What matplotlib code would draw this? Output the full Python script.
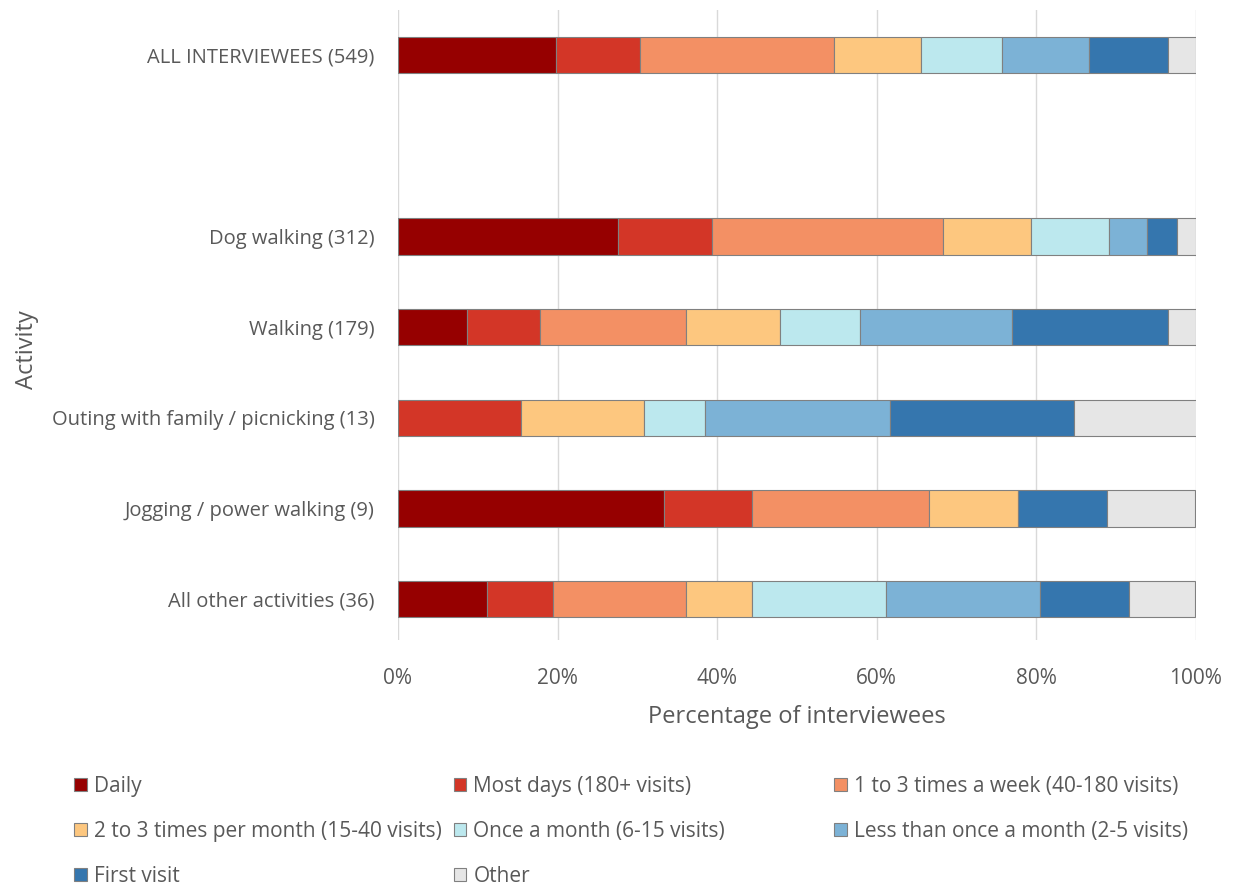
import numpy as np
import matplotlib.pyplot as plt

# activities, bottom to top (an empty slot sits below the overall row)
activities = ['All other activities (36)', 'Jogging / power walking (9)',
              'Outing with family / picnicking (13)', 'Walking (179)',
              'Dog walking (312)', '', 'ALL INTERVIEWEES (549)']

frequencies = ['Daily', 'Most days (180+ visits)', '1 to 3 times a week (40-180 visits)',
               '2 to 3 times per month (15-40 visits)', 'Once a month (6-15 visits)',
               'Less than once a month (2-5 visits)', 'First visit', 'Other']

# percentage of interviewees per frequency, one list per activity (same order as activities)
all_other = [11.1, 8.3, 16.7, 8.3, 16.7, 19.4, 11.1, 8.3]
jogging = [33.3, 11.1, 22.2, 11.1, 0.0, 0.0, 11.1, 11.1]
outing = [0.0, 15.4, 0.0, 15.4, 7.7, 23.1, 23.1, 15.4]
walking = [8.7, 9.1, 18.3, 11.8, 10.0, 19.0, 19.6, 3.5]
dog_walking = [27.6, 11.8, 28.9, 11.0, 9.8, 4.8, 3.7, 2.4]
blank = [0, 0, 0, 0, 0, 0, 0, 0]
all_interviewees = [19.8, 10.5, 24.3, 10.9, 10.2, 10.9, 9.9, 3.5]

colors = ['#960000', '#D33627', '#F39064', '#FDC77F', '#BCE8EE',
          '#7CB2D6', '#3576AE', '#E6E6E6']

rows = np.array([all_other, jogging, outing, walking, dog_walking, blank, all_interviewees])
ypos = np.arange(len(activities))

fig = plt.figure(figsize=(12.36, 8.85), dpi=100)
ax = fig.add_axes([0.322, 0.277, 0.6456, 0.712])

text_col = '#595959'
left = np.zeros(len(activities))
bars = []
for k in range(len(frequencies)):
    widths = rows[:, k]
    lw = [0.8 if w > 0 else 0 for w in widths]
    b = ax.barh(ypos, widths, left=left, height=0.4, color=colors[k],
                edgecolor='#808080', linewidth=lw, label=frequencies[k], zorder=3)
    bars.append(b)
    left += widths

ax.set_xlim(0, 100)
ax.set_ylim(-0.45, 6.5)
ax.set_xticks([0, 20, 40, 60, 80, 100])
ax.set_xticklabels(['0%', '20%', '40%', '60%', '80%', '100%'], fontsize=15, color=text_col,
                   family='Open Sans')
ax.set_yticks(ypos)
ax.set_yticklabels(activities, fontsize=14.5, color=text_col, family='Open Sans')
ax.tick_params(axis='x', length=0, pad=20)
ax.tick_params(axis='y', length=0, pad=17)
ax.grid(axis='x', color='#D9D9D9', linewidth=1, zorder=0)
for s in ax.spines.values():
    s.set_visible(False)
ax.set_xlabel('Percentage of interviewees', fontsize=17, color=text_col, family='Open Sans',
              labelpad=12)
ax.set_ylabel('Activity', fontsize=17, color=text_col, family='Open Sans')
ax.yaxis.set_label_coords(-0.45, 0.46)

# legend laid out row by row in three columns
cols_x = [0.060, 0.367, 0.675]
groups = [[0, 3, 6], [1, 4, 7], [2, 5]]
for cx, grp in zip(cols_x, groups):
    leg = fig.legend([bars[i] for i in grp], [frequencies[i] for i in grp],
                     loc='upper left', bbox_to_anchor=(cx, 0.123), frameon=False,
                     handlelength=0.6, handleheight=0.6, handletextpad=0.35,
                     labelspacing=1.15, borderaxespad=0, borderpad=0,
                     prop={'family': 'Open Sans', 'size': 15})
    for t in leg.get_texts():
        t.set_color(text_col)

fig.savefig('out.png', dpi=100)
